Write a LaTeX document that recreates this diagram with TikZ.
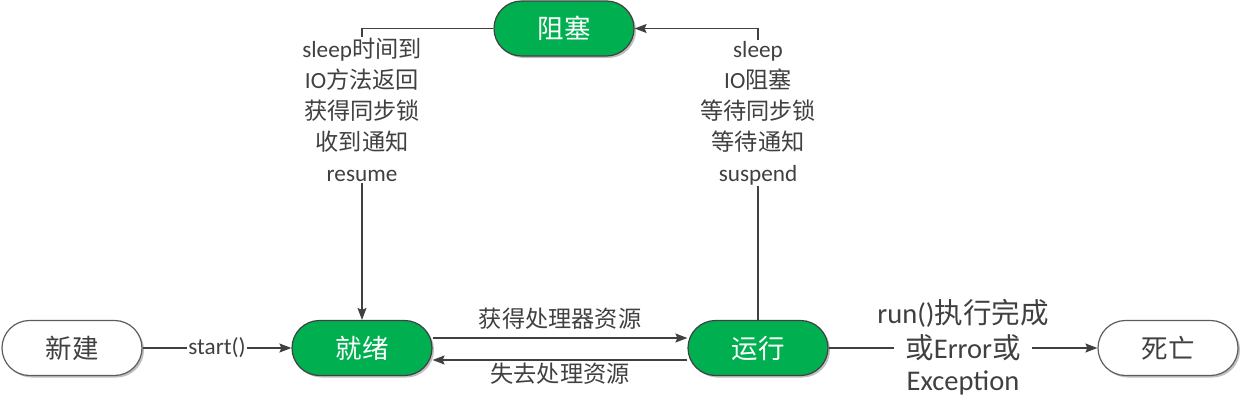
\documentclass[tikz,border=0pt]{standalone}
\usepackage{fontspec}
\setmainfont{Carlito}
\newfontfamily\zhf{Noto Sans CJK SC}
\newcommand\zh[1]{{\zhf #1}}
\usetikzlibrary{arrows.meta,shadows}
\definecolor{ink}{HTML}{404040}
\definecolor{okgreen}{HTML}{00B050}
\begin{document}
\begin{tikzpicture}[x=1pt,y=-1pt,
  state/.style={draw=ink, line width=1.2pt, rounded corners=27.5pt,
    minimum width=140pt, minimum height=55pt, inner sep=0pt,
    font=\zhf\fontsize{26.5}{30}\selectfont,
    drop shadow={shadow xshift=2pt,shadow yshift=-2pt,opacity=0.25,fill=black}},
  active/.style={state, fill=okgreen, text=white},
  idle/.style={state, draw=ink!85, fill=white, text=ink},
  conn/.style={draw=ink, line width=1.2pt, -{Stealth[length=12pt,width=9pt,inset=2pt]}},
  lab/.style={text=ink, font=\fontsize{23.2}{31}\selectfont, align=center, inner sep=1pt},
  biglab/.style={text=ink, font=\fontsize{28.5}{35}\selectfont, align=center, inner sep=1pt},
]
\useasboundingbox (0,0) rectangle (1240,402);
\node[idle]   (xj) at (72,348)   {新建};
\node[active] (jx) at (362,348)  {就绪};
\node[active] (yx) at (758,348)  {运行};
\node[idle]   (sw) at (1168,348) {死亡};
\node[active] (zs) at (564,28.5) {阻塞};

\draw[conn] (xj) -- node[lab, fill=white]{start()} (jx);
\draw[conn] ([yshift=10pt]jx.east) -- node[lab, above=7pt]{\zh{获得处理器资源}} ([yshift=10pt]yx.west);
\draw[conn] ([yshift=-12pt]yx.west) -- node[lab, below=1pt]{\zh{失去处理资源}} ([yshift=-12pt]jx.east);
\draw[conn] (yx) -- node[biglab, fill=white, inner xsep=11pt]{\zh{或}Error\zh{或}}
  node[biglab, yshift=35pt]{run()\zh{执行完成}}
  node[biglab, yshift=-35pt]{Exception} (sw);
\draw[conn] (yx.north) |- node[lab, pos=0.355, fill=white]{sleep\\IO\zh{阻塞}\\\zh{等待同步锁}\\\zh{等待通知}\\suspend} (zs.east);
\draw[conn] (zs.west) -| node[lab, pos=0.64, fill=white]{sleep\zh{时间到}\\IO\zh{方法返回}\\\zh{获得同步锁}\\\zh{收到通知}\\resume} (jx.north);
\end{tikzpicture}
\end{document}
